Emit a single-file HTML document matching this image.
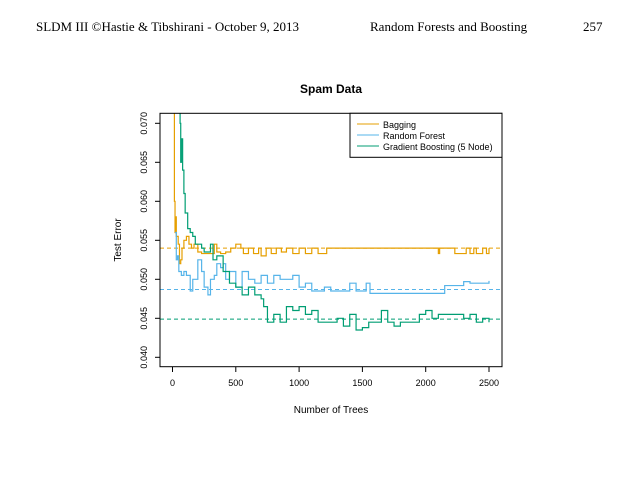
<!DOCTYPE html>
<html><head><meta charset="utf-8"><style>
body{margin:0;background:#fff;width:638px;height:493px;overflow:hidden;font-family:"Liberation Sans",sans-serif}
svg text{font-family:"Liberation Sans",sans-serif}
</style></head><body>
<svg id="c" width="638" height="493" xmlns="http://www.w3.org/2000/svg">
<text x="36" y="31" font-size="13" style="font-family:'Liberation Serif',serif">SLDM III ©Hastie &amp; Tibshirani - October 9, 2013</text>
<text x="370" y="31" font-size="13" style="font-family:'Liberation Serif',serif">Random Forests and Boosting</text>
<text x="583" y="31" font-size="13" style="font-family:'Liberation Serif',serif">257</text>
<text x="331" y="93" font-size="12" font-weight="bold" text-anchor="middle">Spam Data</text>
<text x="331" y="413" font-size="10" text-anchor="middle">Number of Trees</text>
<text transform="translate(121,240) rotate(-90)" font-size="10" text-anchor="middle">Test Error</text>
<g id="axes"></g>
<defs><clipPath id="clip"><rect x="160" y="113.3" width="342" height="253.4"/></clipPath></defs>
<g id="series" clip-path="url(#clip)"></g>
<rect x="160" y="113.3" width="342" height="253.4" fill="none" stroke="#000" stroke-width="1"/>
<g>
<rect x="350" y="113.3" width="152" height="44" fill="#fff" stroke="#000"/>
<line x1="357" y1="124" x2="379" y2="124" stroke="#E69F00"/><text x="383" y="128" font-size="9">Bagging</text>
<line x1="357" y1="135" x2="379" y2="135" stroke="#56B4E9"/><text x="383" y="139" font-size="9">Random Forest</text>
<line x1="357" y1="146" x2="379" y2="146" stroke="#009E73"/><text x="383" y="150" font-size="9">Gradient Boosting (5 Node)</text>
</g>
</svg>
<script>
const xTicks=[0,500,1000,1500,2000,2500];
const yTicks=[0.040,0.045,0.050,0.055,0.060,0.065,0.070];
const yTickLabels=["0.040","0.045","0.050","0.055","0.060","0.065","0.070"];
const bagX=[1,10,15,20,25,30,45,55,65,75,90,110,130,150,170,200,230,260,300,330,350,380,420,460,500,540,560,600,640,680,700,740,780,820,860,900,950,1000,1050,1100,1150,1218,1500,2090,2100,2110,2230,2300,2320,2350,2380,2400,2450,2480,2500];
const bagY=[0.080,0.072,0.060,0.056,0.058,0.0555,0.0545,0.052,0.0525,0.054,0.055,0.0555,0.0545,0.054,0.0545,0.0535,0.0533,0.0533,0.0533,0.0545,0.0535,0.0533,0.0535,0.054,0.0545,0.054,0.0533,0.054,0.0533,0.054,0.053,0.054,0.0533,0.054,0.0535,0.054,0.0533,0.054,0.0533,0.054,0.0533,0.054,0.054,0.054,0.0533,0.054,0.0533,0.0533,0.054,0.0533,0.054,0.0533,0.054,0.0533,0.054];
const rfX=[20,30,40,50,70,90,110,140,160,200,230,250,280,300,330,350,380,400,420,450,500,550,600,650,700,750,800,850,900,950,1000,1050,1100,1200,1250,1300,1400,1450,1500,1530,1560,2100,2150,2250,2300,2350,2400,2450,2500];
const rfY=[0.056,0.0525,0.053,0.051,0.0505,0.051,0.0505,0.0485,0.050,0.0525,0.051,0.049,0.048,0.050,0.0505,0.052,0.0515,0.052,0.050,0.051,0.049,0.051,0.050,0.0495,0.0505,0.0495,0.0505,0.050,0.050,0.0505,0.049,0.0495,0.0485,0.049,0.0485,0.0485,0.0495,0.0485,0.0485,0.0495,0.0482,0.0482,0.0492,0.0492,0.0497,0.0495,0.0495,0.0495,0.0498];
const gbX=[50,60,65,70,80,90,100,120,140,160,180,200,230,250,300,320,350,400,450,500,550,600,650,700,720,750,800,850,900,950,1000,1050,1100,1150,1200,1300,1350,1400,1450,1500,1550,1600,1650,1700,1750,1800,1900,1950,2000,2050,2100,2200,2300,2350,2400,2450,2500];
const gbY=[0.080,0.070,0.065,0.068,0.064,0.061,0.0585,0.0565,0.056,0.0555,0.0545,0.0545,0.054,0.0535,0.0545,0.0525,0.053,0.051,0.0495,0.049,0.048,0.049,0.048,0.0475,0.0465,0.0445,0.0455,0.0445,0.0465,0.046,0.0465,0.0455,0.046,0.0445,0.0445,0.045,0.044,0.0455,0.0435,0.0438,0.0445,0.0445,0.046,0.0445,0.044,0.0445,0.0445,0.0455,0.046,0.045,0.0455,0.0455,0.045,0.0455,0.0445,0.045,0.0445];
const refY=[0.0540,0.0487,0.0449];
const colors=["#E69F00","#56B4E9","#009E73"];
const NS="http://www.w3.org/2000/svg";
const sx=v=>172.5+v*0.1266, sy=v=>123.3+(0.070-v)*7800;
const axes=document.getElementById('axes'), ser=document.getElementById('series');
function mk(t,a,p){const e=document.createElementNS(NS,t);for(const k in a)e.setAttribute(k,a[k]);p.appendChild(e);return e;}
xTicks.forEach(v=>{const g=mk('g',{},axes);


mk('line',{x1:sx(v),x2:sx(v),y1:366.7,y2:372,stroke:'#000'},g);
const t=mk('text',{x:sx(v),y:386,'font-size':9,'text-anchor':'middle'},g);t.textContent=v;});
yTicks.forEach((v,i)=>{const g=mk('g',{},axes);


mk('line',{x1:155,x2:160,y1:sy(v),y2:sy(v),stroke:'#000'},g);
const t=mk('text',{transform:`translate(147,${sy(v)}) rotate(-90)`,'font-size':9,'text-anchor':'middle'},g);t.textContent=yTickLabels[i];});
refY.forEach((v,i)=>{const l=mk('line',{x1:160,x2:502,y1:sy(v),y2:sy(v),stroke:colors[i],'stroke-dasharray':'4,3'},ser);

});
[[bagX,bagY,'bagging-line'],[rfX,rfY,'random-forest-line'],[gbX,gbY,'gradient-boosting-line']].forEach(([X,Y,n],i)=>{
let d=`M${sx(X[0])},${sy(Y[0])}`;for(let k=1;k<X.length;k++){d+=`H${sx(X[k])}V${sy(Y[k])}`;}
const p=mk('path',{d,fill:'none',stroke:colors[i],'stroke-width':1.2},ser);

});
</script>
</body></html>
